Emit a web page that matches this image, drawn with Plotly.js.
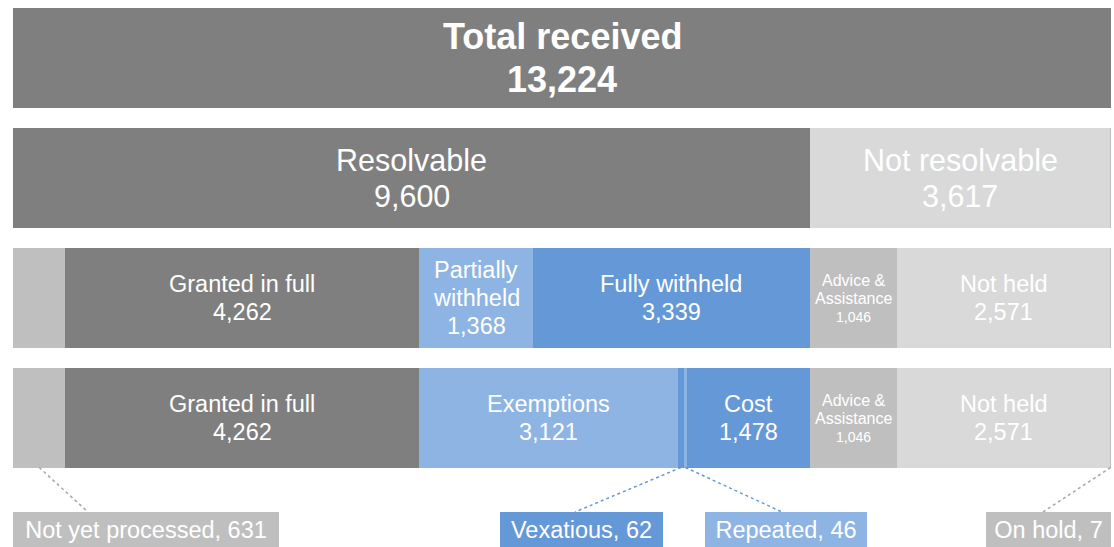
<!DOCTYPE html>
<html>
<head>
<meta charset="utf-8">
<script src="https://cdn.plot.ly/plotly-3.0.1.min.js"></script>
<style>
  html, body { margin: 0; padding: 0; background: #ffffff; }
  #chart { width: 1114px; height: 547px; }
</style>
</head>
<body>
<div id="chart"></div>
<script>
// ---- Data ----
const totalLabels = ['Total received'];
const totalValues = [13224];

const stageLabels = ['Resolvable', 'Not resolvable', 'On hold'];
const stageValues = [9600, 3617, 7];

const outcomeLabels = ['Not yet processed', 'Granted in full', 'Partially withheld', 'Fully withheld', 'Advice & Assistance', 'Not held', 'On hold'];
const outcomeValues = [631, 4262, 1368, 3339, 1046, 2571, 7];

const reasonLabels = ['Not yet processed', 'Granted in full', 'Exemptions', 'Vexatious', 'Repeated', 'Cost', 'Advice & Assistance', 'Not held', 'On hold'];
const reasonValues = [631, 4262, 3121, 62, 46, 1478, 1046, 2571, 7];

// ---- Styles ----
const FONT = 'Arial, "Liberation Sans", sans-serif';
const DARK = '#7f7f7f', MID = '#bfbfbf', LIGHT = '#d9d9d9', BLUE = '#6598d7', LBLUE = '#8db4e2';

const styleByLabel = {
  'Total received':      { color: DARK,  size: 36, bold: true },
  'Resolvable':          { color: DARK,  size: 30.5 },
  'Not resolvable':      { color: LIGHT, size: 30.5 },
  'On hold':             { color: MID,   hidden: true },
  'Not yet processed':   { color: MID,   hidden: true },
  'Granted in full':     { color: DARK,  size: 23.5 },
  'Partially withheld':  { color: LBLUE, size: 23.5, lines: ['Partially', 'withheld'] },
  'Fully withheld':      { color: BLUE,  size: 23.5 },
  'Advice & Assistance': { color: MID,   size: 16, lines: ['Advice &amp;', 'Assistance'], valueSize: 14, spacing: 18, shift: 1.4 },
  'Not held':            { color: LIGHT, size: 23.5 },
  'Exemptions':          { color: LBLUE, size: 23.5 },
  'Vexatious':           { color: BLUE,  hidden: true },
  'Repeated':            { color: LBLUE, hidden: true },
  'Cost':                { color: BLUE,  size: 23.5 }
};

// callout boxes under the last row (pixel layout)
const calloutBoxes = {
  'Not yet processed': { left: 13,  width: 266, endPx: 88,   lineColor: '#a6a6a6' },
  'Vexatious':         { left: 500, width: 163, endPx: 575,  lineColor: BLUE },
  'Repeated':          { left: 705, width: 162, endPx: 782,  lineColor: BLUE },
  'On hold':           { left: 986, width: 125, endPx: 1043, lineColor: '#a6a6a6' }
};

const rows = [
  { labels: totalLabels,   values: totalValues },
  { labels: stageLabels,   values: stageValues },
  { labels: outcomeLabels, values: outcomeValues },
  { labels: reasonLabels,  values: reasonValues }
];

const W = 1114, H = 547, ML = 13, MR = 3;
const plotW = W - ML - MR;
const xMax = totalValues[0];
const rowPitch = 120, firstCenter = 57.5;
const barWidth = 100 / 120;
const pxToX = px => (px - ML) / plotW * xMax;
const pyToY = py => (py - firstCenter) / rowPitch;

const fmt = v => v.toLocaleString('en-US');

const traces = [];
const shapes = [];
const annotations = [];

rows.forEach((row, ri) => {
  let cum = 0;
  row.labels.forEach((lab, i) => {
    const v = row.values[i];
    const st = styleByLabel[lab];
    traces.push({
      type: 'bar',
      orientation: 'h',
      y: [ri],
      x: [v],
      width: barWidth,
      name: lab,
      marker: { color: st.color, line: { width: 0 } },
      textposition: 'none',
      hoverinfo: 'skip',
      showlegend: false
    });

    const mid = cum + v / 2;

    if (!st.hidden) {
      const textLines = (st.lines || [lab]).map(t => ({ t, size: st.size }));
      textLines.push({ t: fmt(v), size: st.valueSize || st.size });
      const n = textLines.length;
      const spacing = st.spacing || st.size * 1.2;
      const shift = st.shift !== undefined ? st.shift : 0.5;
      textLines.forEach((ln, k) => {
        const off = (k - (n - 1) / 2) * spacing + shift; // pixels downward
        annotations.push({
          xref: 'x', yref: 'y',
          x: mid, y: ri,
          xanchor: 'center', yanchor: 'middle',
          yshift: -off,
          text: st.bold ? `<b>${ln.t}</b>` : ln.t,
          showarrow: false,
          font: { family: FONT, size: ln.size, color: '#ffffff' }
        });
      });
    }

    // callouts for last row
    if (ri === rows.length - 1 && calloutBoxes[lab]) {
      const cb = calloutBoxes[lab];
      const boxTop = 512;
      shapes.push({
        type: 'line', xref: 'x', yref: 'y',
        x0: Math.min(mid, xMax - 5), y0: ri + barWidth / 2,
        x1: pxToX(cb.endPx), y1: pyToY(boxTop),
        line: { color: cb.lineColor, width: 1.5, dash: 'dot' }
      });
      annotations.push({
        xref: 'x', yref: 'y',
        x: pxToX(cb.left), xanchor: 'left',
        y: pyToY(boxTop), yanchor: 'top',
        text: `${lab}, ${fmt(v)}`,
        showarrow: false,
        width: cb.width, height: 36,
        bgcolor: st.color,
        borderwidth: 0, borderpad: 0,
        align: 'center', valign: 'middle',
        font: { family: FONT, size: 23.5, color: '#ffffff' }
      });
    }
    cum += v;
  });
});

const layout = {
  width: W, height: H,
  margin: { l: ML, r: MR, t: 0, b: 0, pad: 0 },
  paper_bgcolor: '#ffffff',
  plot_bgcolor: '#ffffff',
  barmode: 'stack',
  showlegend: false,
  xaxis: { range: [0, xMax], visible: false, fixedrange: true },
  yaxis: { range: [pyToY(H), pyToY(0)], visible: false, fixedrange: true },
  shapes: shapes,
  annotations: annotations,
  font: { family: FONT }
};

Plotly.newPlot('chart', traces, layout, { displayModeBar: false, staticPlot: true });
</script>
</body>
</html>
